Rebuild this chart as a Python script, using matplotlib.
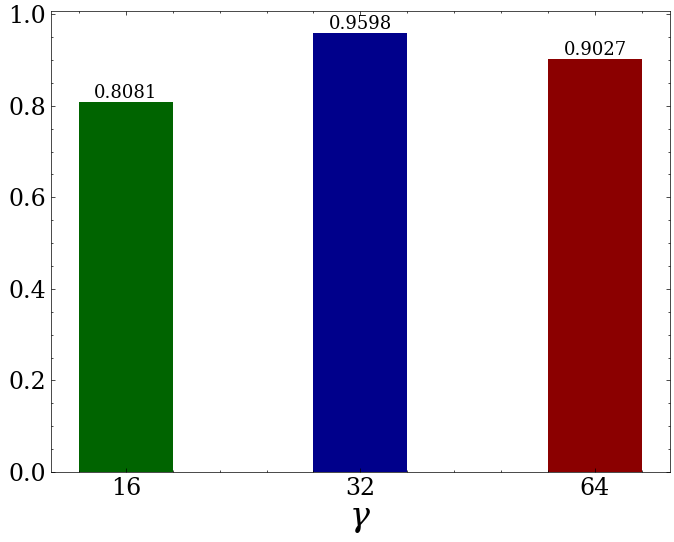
import numpy as np
import matplotlib.pyplot as plt
from matplotlib.ticker import AutoMinorLocator

# data
gammas = ["16", "32", "64"]
scores = [0.8081, 0.9598, 0.9027]
bar_colors = ["darkgreen", "darkblue", "darkred"]

plt.rcParams["font.family"] = "DejaVu Serif"
plt.rcParams["mathtext.fontset"] = "dejavuserif"

fig = plt.figure(figsize=(6.74, 5.42), dpi=100)
ax = fig.add_axes([0.0752, 0.1292, 0.9941 - 0.0752, 0.9803 - 0.1292])

x = np.arange(len(gammas))
ax.bar(x, scores, width=0.4, color=bar_colors)
for xi, v in zip(x, scores):
    ax.text(xi, v, f"{v:.4f}", ha="center", va="bottom", fontsize=13)

ax.set_xticks(x)
ax.set_xticklabels(gammas)
ax.set_xlabel(r"$\gamma$", fontsize=24, labelpad=2)

ax.xaxis.set_minor_locator(AutoMinorLocator())
ax.yaxis.set_minor_locator(AutoMinorLocator())
ax.tick_params(which="both", direction="in", top=True, right=True, width=0.5, labelsize=17)
ax.tick_params(which="major", length=3)
ax.tick_params(which="minor", length=1.5)
for s in ax.spines.values():
    s.set_linewidth(0.5)

fig.savefig("out.png", dpi=100)
